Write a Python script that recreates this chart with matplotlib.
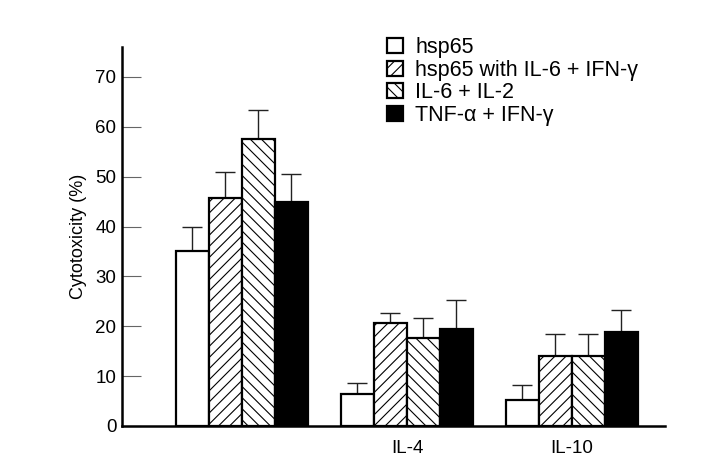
import matplotlib
matplotlib.use("Agg")
import matplotlib.pyplot as plt
import numpy as np

plt.rcParams['font.family'] = ['Liberation Sans', 'DejaVu Sans']
plt.rcParams['hatch.linewidth'] = 0.8
plt.rcParams['hatch.color'] = '#555555'

groups = ['', 'IL-4', 'IL-10']
series = ['hsp65', 'hsp65 with IL-6 + IFN-γ', 'IL-6 + IL-2', 'TNF-α + IFN-γ']
values = [
    [35.0, 6.4, 5.3],
    [45.7, 20.6, 14.1],
    [57.6, 17.7, 14.1],
    [44.9, 19.4, 18.8],
]
errors = [
    [5.0, 2.2, 3.0],
    [5.3, 2.1, 4.4],
    [5.8, 4.0, 4.4],
    [5.6, 5.9, 4.5],
]
yticks = [0, 10, 20, 30, 40, 50, 60, 70]

faces = ['white', 'white', 'white', 'black']
hatches = [None, '///', '\\\\\\', None]

fig = plt.figure(figsize=(7.09, 4.69), dpi=100)
ax = fig.add_axes([0.172, 0.0917, 0.766, 0.808])

x = np.arange(len(groups))
w = 0.2
for i in range(4):
    pos = x + (i - 1.5) * w
    ax.bar(pos, values[i], width=w, color=faces[i], edgecolor='black',
           linewidth=1.6, hatch=hatches[i], label=series[i], zorder=2)
    ax.errorbar(pos, values[i], yerr=[np.zeros(3), errors[i]], fmt='none',
                ecolor='#222222', elinewidth=1.0, capsize=7, capthick=1.0, zorder=1)

ax.set_xlim(-0.727, 2.564)
ax.set_ylim(0, 76)
ax.set_yticks(yticks)
ax.set_xticks(x)
ax.set_xticklabels(groups, fontsize=13.5)
ax.tick_params(axis='x', length=0, pad=10)
ax.tick_params(axis='y', direction='in', length=14, width=0.8, color='#666666',
               labelsize=13.5, pad=4)
ax.spines['top'].set_visible(False)
ax.spines['right'].set_visible(False)
ax.spines['left'].set_linewidth(1.8)
ax.spines['bottom'].set_linewidth(1.8)
ax.set_ylabel('Cytotoxicity (%)', fontsize=13, labelpad=6)

leg = fig.legend(loc='upper left', bbox_to_anchor=(0.546, 0.921), frameon=False,
                 fontsize=15.5, handlelength=0.75, handleheight=0.7,
                 handletextpad=0.55, labelspacing=0.08, borderpad=0, borderaxespad=0)

fig.savefig('out.png', dpi=100)
